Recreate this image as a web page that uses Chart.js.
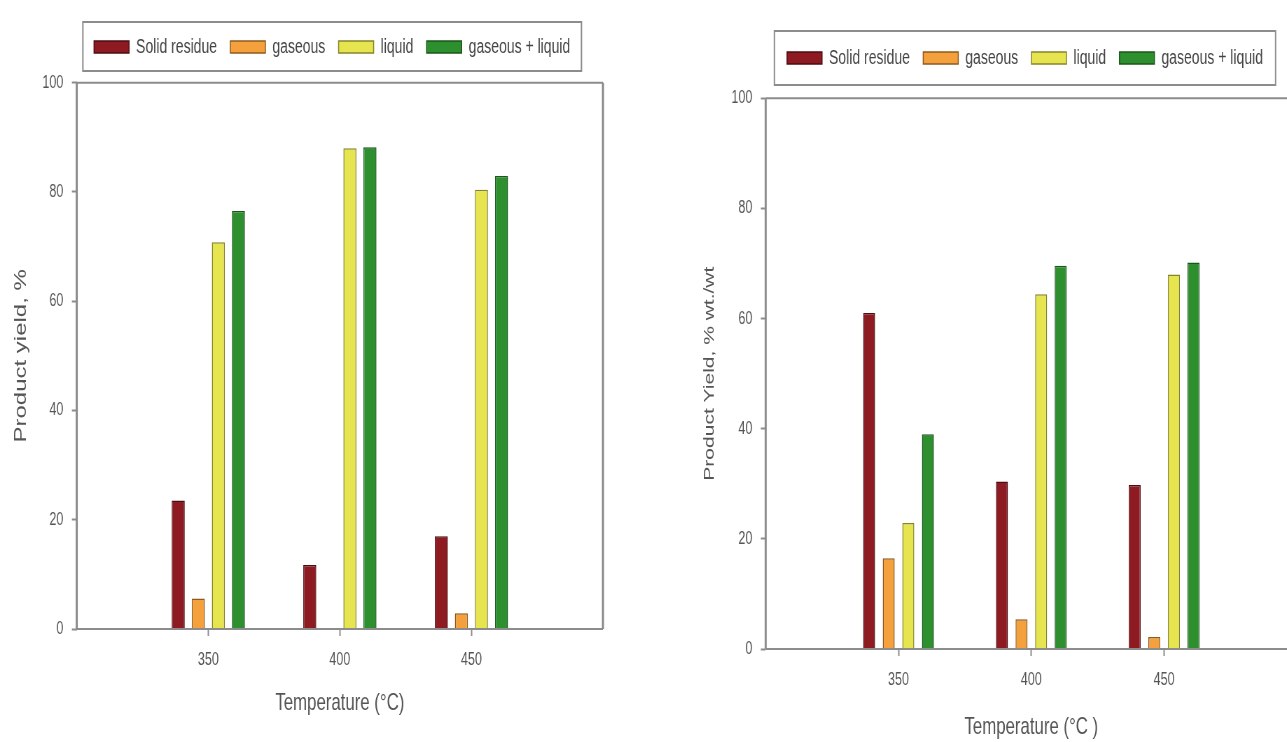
<!DOCTYPE html>
<html>
<head>
<meta charset="utf-8">
<title>Product yield vs temperature</title>
<script src="https://cdn.jsdelivr.net/npm/chart.js@4.4.0/dist/chart.umd.min.js"></script>
<style>
html, body { margin: 0; padding: 0; background: #fff; overflow: hidden; width: 1287px; height: 742px; }
canvas { position: absolute; top: 0; }
</style>
</head>
<body>
<!-- the source picture is squeezed sideways, so each canvas is drawn wide and shown narrow -->
<canvas id="left" width="914" height="742" style="left:0px;width:640px;height:742px"></canvas>
<canvas id="right" width="943" height="742" style="left:650px;width:660px;height:742px"></canvas>
<script>
// temperatures on the x axis (°C)
var temps = ['350', '400', '450'];
var yTicks = [0, 20, 40, 60, 80, 100];
var seriesNames = ['Solid residue', 'gaseous', 'liquid', 'gaseous + liquid'];

// left panel, product yield %
var leftSolid = [23.5, 11.7, 17.0];
var leftGas = [5.6, 0, 2.9];
var leftLiquid = [70.8, 88.0, 80.4];
var leftGasLiquid = [76.5, 88.2, 82.9];

// right panel, product yield % wt./wt
var rightSolid = [61.0, 30.4, 29.8];
var rightGas = [16.5, 5.4, 2.2];
var rightLiquid = [22.9, 64.4, 68.0];
var rightGasLiquid = [39.0, 69.6, 70.2];

var fills = ['#8e1a22', '#f4a13d', '#e6e54f', '#2e8f2e'];
var edges = ['#4e0d12', '#8d5a1e', '#86842a', '#1b561b'];
var FONT = "'Liberation Sans', Arial, sans-serif";
var AXIS = '#8c8c8c';
var TEXT = '#555';

// one empty slot at each end, so 350/400/450 sit at 1/4, 2/4, 3/4 of the axis
function pad(a) { return [null].concat(a, [null]); }

// fixed legend height, sideways nudge and the box drawn round the items
var legendBox = {
    id: 'legendBox',
    beforeLayout: function(chart, args, opts) {
        var lg = chart.legend;
        if (!lg || lg._fixed) return;
        var fit = lg.fit;
        lg.fit = function() { fit.call(this); this.height = opts.height; };
        lg._fixed = true;
    },
    afterLayout: function(chart, args, opts) {
        chart.legend.left += opts.shift;
        chart.legend.right += opts.shift;
    },
    afterDraw: function(chart, args, opts) {
        var lg = chart.legend, ctx = chart.ctx;
        var lab = lg.options.labels;
        var p = lab.padding;
        var w = lg.lineWidths[0];
        var x0 = (lg.left + p + lg.right - w) / 2;
        var x1 = x0 + w - p;
        var cy = lg.top + p + Math.max(lab.font.size, lab.boxHeight) / 2;
        ctx.save();
        ctx.strokeStyle = AXIS;
        ctx.lineWidth = 2;
        ctx.strokeRect(x0 - opts.mx, cy - opts.up, x1 - x0 + 2 * opts.mx, opts.up + opts.down);
        ctx.restore();
    }
};

// plot frame: thin in y, a bit heavier in x because the canvas is squeezed
var frame = {
    id: 'frame',
    afterDatasetsDraw: function(chart) {
        var a = chart.chartArea, ctx = chart.ctx;
        ctx.save();
        ctx.strokeStyle = AXIS;
        ctx.lineWidth = 2;
        ctx.beginPath();
        ctx.moveTo(a.left, a.top); ctx.lineTo(a.right, a.top);
        ctx.moveTo(a.left, a.bottom); ctx.lineTo(a.right, a.bottom);
        ctx.stroke();
        ctx.lineWidth = 3;
        ctx.beginPath();
        ctx.moveTo(a.left, a.top); ctx.lineTo(a.left, a.bottom);
        ctx.moveTo(a.right, a.top); ctx.lineTo(a.right, a.bottom);
        ctx.stroke();
        ctx.restore();
    }
};

function build(id, values, g) {
    var datasets = seriesNames.map(function(name, i) {
        return {
            label: name,
            data: pad(values[i]),
            backgroundColor: fills[i],
            borderColor: edges[i],
            borderWidth: 1.5,
            categoryPercentage: g.cat,
            barPercentage: g.bar
        };
    });
    return new Chart(document.getElementById(id), {
        type: 'bar',
        data: {
            labels: pad(temps).map(function(t) { return t || ''; }),
            datasets: datasets
        },
        plugins: [legendBox, frame],
        options: {
            responsive: false,
            animation: false,
            layout: { padding: g.padding },
            plugins: {
                tooltip: { enabled: false },
                legendBox: { height: g.legendH, shift: g.shift, mx: g.mx, up: g.up, down: g.down },
                legend: {
                    position: 'top',
                    fullSize: false,
                    labels: {
                        boxWidth: 50,
                        boxHeight: 12,
                        padding: 19,
                        color: '#444',
                        font: { family: FONT, size: 20 }
                    }
                }
            },
            scales: {
                x: {
                    offset: false,
                    border: { display: false },
                    grid: {
                        offset: false,
                        drawOnChartArea: false,
                        drawTicks: true,
                        tickLength: 7,
                        tickWidth: 2,
                        tickColor: function(c) { return c.tick && c.tick.label ? AXIS : 'rgba(0,0,0,0)'; }
                    },
                    ticks: { color: TEXT, padding: 13, maxRotation: 0, autoSkip: false, font: { family: FONT, size: 18 } },
                    title: {
                        display: true,
                        text: g.xTitle,
                        color: TEXT,
                        font: { family: FONT, size: 24 },
                        padding: { top: 0, bottom: g.xTitlePad }
                    },
                    afterFit: function(s) { s.height = g.xH; }
                },
                y: {
                    min: 0,
                    max: 100,
                    border: { display: false },
                    grid: { drawOnChartArea: false, drawTicks: true, tickLength: 7, tickWidth: 2, tickColor: AXIS },
                    ticks: { color: TEXT, padding: 12, font: { family: FONT, size: 18 } },
                    afterBuildTicks: function(s) { s.ticks = yTicks.map(function(v) { return { value: v }; }); },
                    title: {
                        display: true,
                        text: g.yTitle,
                        color: TEXT,
                        font: { family: FONT, size: g.yTitleSize },
                        padding: { top: 4, bottom: 0 }
                    },
                    afterFit: function(s) { s.width = g.yW; }
                }
            }
        }
    });
}

build('left', [leftSolid, leftGas, leftLiquid, leftGasLiquid], {
    padding: { left: 12, right: 52.9, top: 18, bottom: 0 },
    yW: 97.6, xH: 113, legendH: 64.7,
    shift: -11, mx: 16, up: 25, down: 24,
    cat: 0.61, bar: 0.65,
    xTitle: 'Temperature (°C)', xTitlePad: 24.6,
    yTitle: 'Product yield, %', yTitleSize: 24
});

build('right', [rightSolid, rightGas, rightLiquid, rightGasLiquid], {
    padding: { left: 69, right: 18.7, top: 29, bottom: 0 },
    yW: 96.3, xH: 93, legendH: 69.3,
    shift: -9, mx: 18, up: 27, down: 27,
    cat: 0.59, bar: 0.61,
    xTitle: 'Temperature (°C )', xTitlePad: 0,
    yTitle: 'Product Yield, % wt./wt', yTitleSize: 21
});
</script>
</body>
</html>
